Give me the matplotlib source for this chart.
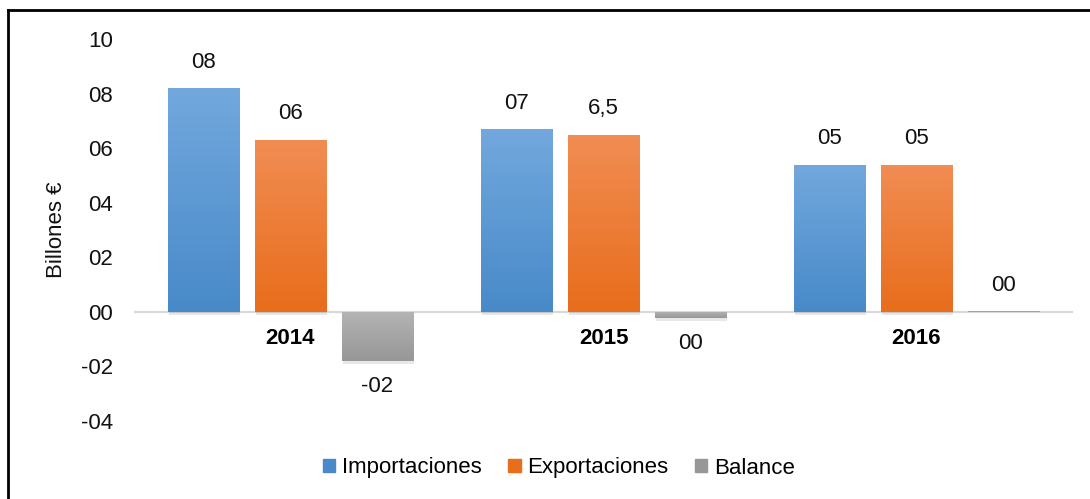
import numpy as np
import matplotlib.pyplot as plt
import matplotlib.patheffects as pe
from matplotlib.colors import LinearSegmentedColormap
from matplotlib.lines import Line2D

plt.rcParams['font.family'] = ['Liberation Sans', 'DejaVu Sans']

years = ['2014', '2015', '2016']
series = ['Importaciones', 'Exportaciones', 'Balance']
importaciones = [8.2, 6.7, 5.4]
exportaciones = [6.3, 6.5, 5.4]
balance = [-1.8, -0.22, 0.02]
bar_labels = [['08', '07', '05'], ['06', '6,5', '05'], ['-02', '00', '00']]
yticks = [-4, -2, 0, 2, 4, 6, 8, 10]
ytick_labels = ['-04', '-02', '00', '02', '04', '06', '08', '10']

# top / bottom colours of the vertical gradient
grads = [('#72a8dd', '#488ac9'), ('#f18d53', '#e86d1c'), ('#b4b4b4', '#979797')]

fig = plt.figure(figsize=(10.9, 4.99), dpi=100)
ax = fig.add_axes([134 / 1090, 78 / 499, 939 / 1090, 382 / 499])

x = np.arange(len(years))
step, width = 0.278, 0.227
all_vals = [importaciones, exportaciones, balance]

for k, (vals, name) in enumerate(zip(all_vals, series)):
    top, bot = grads[k]
    bars = ax.bar(x + (k - 1) * step, vals, width, color=top, label=name, zorder=3)
    cmap = LinearSegmentedColormap.from_list('g%d' % k, [bot, top])
    for b, v, lab in zip(bars, vals, bar_labels[k]):
        b.set_path_effects([pe.SimplePatchShadow(offset=(1, -2.5), alpha=0.12, shadow_rgbFace='#444444'),
                            pe.Normal()])
        x0 = b.get_x()
        y0, y1 = min(0, v), max(0, v)
        grad = np.linspace(0, 1, 100).reshape(-1, 1)
        im = ax.imshow(grad, cmap=cmap, origin='lower', aspect='auto',
                       extent=[x0, x0 + width, y0, y1], zorder=4)
        im.set_clip_path(b)
        off = 26 if v >= 0 else -26
        ax.annotate(lab, (x0 + width / 2, v), xytext=(0, off), textcoords='offset pixels',
                    ha='center', va='center', fontsize=16, color='#111111', zorder=5)

ax.axhline(0, color='#d9d9d9', lw=1.6, zorder=2)
for xi, yr in zip(x, years):
    ax.annotate(yr, (xi, 0), xytext=(0, -27), textcoords='offset pixels',
                ha='center', va='center', fontsize=16, fontweight='bold', color='black')

ax.set_xlim(-0.5, 2.5)
ax.set_ylim(-4, 10)
ax.set_xticks([])
ax.set_yticks(yticks)
ax.set_yticklabels(ytick_labels, fontsize=16, color='#111111')
ax.tick_params(axis='y', length=0, pad=15)
for s in ax.spines.values():
    s.set_visible(False)
ax.set_ylabel('Billones €', fontsize=16, color='#111111', va='center')
ax.yaxis.set_label_coords(-77 / 939, (421 - 230) / 382)

leg = fig.legend(loc='center', bbox_to_anchor=(559 / 1090, 1 - 468 / 499), ncol=3, frameon=False,
                 fontsize=16, handlelength=0.55, handleheight=0.55, handletextpad=0.3,
                 columnspacing=1.2)
for h, (top, bot) in zip(leg.legend_handles, grads):
    h.set_path_effects([])
    h.set_color(bot)

# frame lines on top and left
fig.add_artist(Line2D([8 / 1090, 8 / 1090], [0, 1 - 10 / 499], transform=fig.transFigure, color='black', lw=2))
fig.add_artist(Line2D([8 / 1090, 1], [1 - 10 / 499, 1 - 10 / 499], transform=fig.transFigure, color='black', lw=2))

fig.savefig('out.png', dpi=100)
